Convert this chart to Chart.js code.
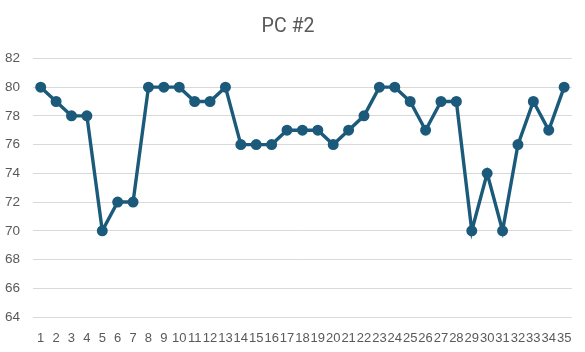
<!DOCTYPE html>
<html><head><meta charset="utf-8">
<script src="https://cdn.jsdelivr.net/npm/chart.js@4/dist/chart.umd.min.js"></script>
<style>html,body{margin:0;padding:0;background:#fff}#wrap{width:585px;height:352px}</style>
</head><body><div id="wrap"><canvas id="c" width="585" height="352"></canvas></div>
<script>
const categories = Array.from({length:35},(_,i)=>String(i+1));
const values = [80,79,78,78,70,72,72,80,80,80,79,79,80,76,76,76,77,77,77,76,77,78,80,80,79,77,79,79,70,74,70,76,79,77,80];
const yMin = 64, yMax = 82, yStep = 2;
const titleText = 'PC #2';
new Chart(document.getElementById('c'), {
  type: 'line',
  data: { labels: categories, datasets: [{ data: values, borderColor: '#1b5a7b', backgroundColor: '#1b5a7b', borderWidth: 3.4, pointRadius: 3.8, pointHoverRadius: 3.8, tension: 0 }] },
  options: {
    responsive: false, animation: false,
    layout: { padding: { left: 0, right: 9, top: 12, bottom: 0 } },
    plugins: { legend: { display: false }, tooltip: { enabled: false },
      title: { display: true, text: titleText, color: '#595959', font: { family: 'Roboto', size: 19.5, weight: 'normal' }, padding: { top: 3, bottom: 20 } } },
    scales: {
      x: { offset: true, grid: { display: false, drawTicks: false }, border: { display: false },
        afterFit: s => { s.height = 35; },
        ticks: { color: '#595959', font: { family: 'Liberation Sans', size: 13 }, maxRotation: 0, autoSkip: false, padding: 13.5 } },
      y: { min: yMin, max: yMax, grid: { color: '#d9d9d9', drawTicks: false }, border: { display: false },
        afterFit: s => { s.width = 33; },
        ticks: { stepSize: yStep, color: '#595959', font: { family: 'Liberation Sans', size: 13.5 }, padding: 13 } }
    }
  }
});
</script></body></html>
